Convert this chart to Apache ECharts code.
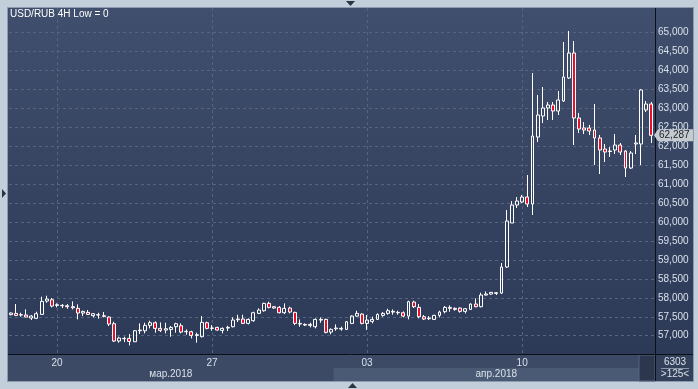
<!DOCTYPE html>
<html><head><meta charset="utf-8">
<script src="https://cdn.jsdelivr.net/npm/echarts@6/dist/echarts.min.js"></script>
<style>html,body{margin:0;padding:0;background:#c3cedb;overflow:hidden}#c{width:698px;height:389px}</style>
</head><body><div id="c"></div>
<script>
// ---------------- data ----------------
const titleText = 'USD/RUB 4H Low = 0';
const tradingDays = ['2018-03-16','2018-03-19','2018-03-20','2018-03-21','2018-03-22','2018-03-23',
  '2018-03-26','2018-03-27','2018-03-28','2018-03-29','2018-03-30',
  '2018-04-02','2018-04-03','2018-04-04','2018-04-05','2018-04-06',
  '2018-04-09','2018-04-10','2018-04-11','2018-04-12','2018-04-13','2018-04-16'];
const candleHours = ['00:00','04:00','08:00','12:00','16:00','20:00'];
const firstCandle = '2018-03-16 12:00';
const candleCount = 125;
const dayTickDates = ['2018-03-20 00:00','2018-03-27 00:00','2018-04-03 00:00','2018-04-10 00:00'];
const monthTicks = {'2018-03-23 16:00':'мар.2018','2018-04-09 04:00':'апр.2018'};
const yTickMin = 57000, yTickMax = 65000, yTickStep = 500;

const opens = [57554,57589,57545,57545,57466,57457,57562,57914,57949,57800,
57800,57791,57765,57721,57598,57615,57527,57545,57527,57492,
57316,56859,56920,56929,56841,57131,57131,57272,57342,57193,
57149,57166,57237,57263,57105,57105,57008,56973,57342,57193,
57219,57140,57202,57237,57422,57439,57325,57395,57589,57659,
57853,57765,57747,57606,57730,57615,57325,57298,57272,57237,
57430,57430,57096,57184,57193,57166,57325,57518,57571,57325,
57378,57430,57536,57589,57642,57615,57606,57518,57888,57747,
57501,57448,57430,57536,57633,57747,57721,57730,57642,57694,
57835,57765,58073,58099,58134,58125,58813,59973,60448,60527,
60659,60474,62242,62797,63008,63087,62928,63193,63800,64459,
62744,62480,62480,62427,62216,61926,61873,61899,62031,61873,
61424,62058,62058,62955,63113];
const closes = [57598,57536,57554,57492,57518,57580,57905,57967,57782,57817,
57791,57765,57738,57598,57642,57562,57580,57554,57510,57307,
56859,56938,56929,56850,57131,57149,57272,57342,57193,57140,
57184,57219,57316,57096,57114,57008,57026,57351,57193,57202,
57149,57193,57219,57413,57439,57325,57430,57606,57677,57853,
57747,57730,57606,57721,57624,57325,57307,57281,57298,57430,
57413,57087,57166,57202,57175,57369,57518,57589,57325,57413,
57430,57562,57589,57659,57624,57606,57518,57897,57765,57501,
57439,57466,57536,57624,57747,57721,57694,57642,57712,57835,
57765,58073,58099,58143,58117,58813,60026,60448,60553,60659,
60474,62269,62823,63008,63087,62928,63219,63826,64459,62744,
62453,62427,62401,62216,61899,61846,61860,62031,61846,61424,
61820,62084,63483,63113,62287];
const highs = [57615,57835,57606,57694,57545,57633,58029,58055,57993,57853,
57835,57835,57905,57826,57659,57677,57598,57606,57624,57510,
57369,56973,56973,57043,57149,57325,57342,57395,57378,57351,
57342,57254,57342,57325,57166,57131,57079,57518,57369,57281,
57237,57219,57263,57483,57554,57554,57457,57633,57721,57870,
57897,57782,57782,57853,57765,57633,57430,57325,57342,57457,
57483,57448,57193,57298,57237,57386,57536,57659,57589,57545,
57501,57589,57624,57712,57694,57659,57642,57923,57923,57835,
57545,57518,57554,57659,57782,57800,57747,57747,57730,57853,
57985,58134,58169,58152,58152,58917,60316,60553,60659,60712,
61239,63931,63351,63562,63166,63166,63456,64749,65040,64776,
62876,62638,62559,63113,62295,62058,61978,62321,62084,61899,
61873,62295,63509,63192,63166];
const lows = [57536,57518,57501,57483,57413,57439,57554,57870,57747,57747,
57730,57712,57694,57430,57518,57545,57483,57448,57483,57254,
56832,56815,56832,56744,56832,57043,57061,57193,57079,57096,
57061,56973,57079,57061,57026,56929,56815,56955,57166,57131,
57131,57061,57122,57219,57360,57307,57298,57369,57571,57633,
57721,57712,57589,57571,57589,57281,57237,57254,57219,57193,
57342,57061,57035,57131,57131,57149,57307,57501,57298,57149,
57325,57413,57501,57554,57554,57554,57483,57430,57730,57457,
57413,57413,57413,57483,57589,57633,57659,57606,57589,57677,
57747,57747,58064,58082,58073,58099,58786,59973,60369,60501,
60395,60184,62110,62612,62691,62691,62823,63166,63773,62031,
62348,62321,62295,61503,61266,61583,61715,61794,61767,61187,
61398,61794,61503,62902,62084];
const infoTop = '6303';
const infoBottom = '>125<';

// ---------------- build ----------------
const allSlots = [];
tradingDays.forEach(d => candleHours.forEach(h => allSlots.push(d + ' ' + h)));
const startIdx = allSlots.indexOf(firstCandle);
const categories = allSlots.slice(startIdx, startIdx + candleCount);
const candleData = opens.map((o, i) => [o, closes[i], lows[i], highs[i]]);
const yTickCount = (yTickMax - yTickMin) / yTickStep;

const FONT = 'Liberation Sans';
const LBL = '#d9e0ea';
const GRIDC = '#56657f';

// layout (pixels)
const PL = 8, PR = 655, PT = 8, PB = 354, FR = 693, FB = 381;
const pxPerStep = 18.95;
const y65000 = 32.5;

const chart = echarts.init(document.getElementById('c'));
const unit = yTickStep / pxPerStep;
const mainMax = yTickMax + (y65000 - PT) * unit;
const mainMin = yTickMax - (PB - y65000) * unit;

chart.setOption({
  animation: false,
  title: {text: titleText, left: 10, top: 9, padding: 0,
    textStyle: {color: '#ffffff', fontSize: 10, fontWeight: 'normal', fontFamily: FONT}},
  grid: [
    {left: 10.6, right: 698 - 651.3, top: PT, height: PB - PT, containLabel: false},
    {left: PL + 1, right: 698 - PR, top: y65000, height: yTickCount * pxPerStep, containLabel: false}
  ],
  xAxis: [
    {type: 'category', gridIndex: 0, data: categories, boundaryGap: false,
      axisLine: {show: false}, axisTick: {show: false},
      axisLabel: {interval: (i, v) => dayTickDates.includes(v), formatter: v => v.slice(8, 10),
        color: LBL, fontSize: 10, fontFamily: FONT, margin: 4},
      splitLine: {show: true, interval: (i, v) => dayTickDates.includes(v),
        lineStyle: {color: GRIDC, type: [3, 3], width: 1}}},
    {type: 'category', gridIndex: 0, data: categories, boundaryGap: false, position: 'bottom', offset: 11,
      axisLine: {show: false}, axisTick: {show: false}, splitLine: {show: false},
      axisLabel: {interval: (i, v) => v in monthTicks, formatter: v => monthTicks[v] || '',
        color: LBL, fontSize: 10, fontFamily: FONT, margin: 4}},
    {type: 'category', gridIndex: 1, data: categories, show: false}
  ],
  yAxis: [
    {type: 'value', gridIndex: 0, min: mainMin, max: mainMax, show: false, splitLine: {show: false}},
    {type: 'value', gridIndex: 1, min: yTickMin, max: yTickMax, interval: yTickStep, position: 'right',
      axisLine: {show: false}, axisTick: {show: false},
      axisLabel: {color: LBL, fontSize: 10, fontFamily: FONT, margin: 3,
        formatter: v => v.toLocaleString('en-US')},
      splitLine: {show: true, lineStyle: {color: GRIDC, type: [3, 3], width: 1}}}
  ],
  series: [{
    type: 'candlestick', xAxisIndex: 0, yAxisIndex: 0, data: candleData, barWidth: 3.4, clip: false,
    itemStyle: {color: 'rgba(0,0,0,0)', color0: '#e8102c', borderColor: '#ffffff', borderColor0: '#ffffff',
      borderWidth: 1}
  }]
});

const lastClose = closes[closes.length - 1];
const tagY = chart.convertToPixel({xAxisIndex: 0, yAxisIndex: 0}, [categories.length - 1, lastClose])[1];
const aprStart = chart.convertToPixel({xAxisIndex: 0}, '2018-04-02 00:00') - 5.167 / 2;
const grad = (a, b) => new echarts.graphic.LinearGradient(0, 0, 0, 1, [{offset: 0, color: a}, {offset: 1, color: b}]);

chart.setOption({graphic: [
  {type: 'rect', z: -20, silent: true, shape: {x: PL - 1, y: PT - 1, width: FR - PL + 2, height: FB - PT + 2}, style: {fill: '#8d9ab0'}},
  {type: 'rect', z: -19, silent: true, shape: {x: PL, y: PT, width: PR - PL, height: PB - PT}, style: {fill: grad('#404f6d', '#2c3957')}},
  {type: 'rect', z: -19, silent: true, shape: {x: PR + 1, y: PT, width: FR - PR - 1, height: PB - PT}, style: {fill: grad('#404f6d', '#2c3957')}},
  {type: 'rect', z: -19, silent: true, shape: {x: PL, y: PB + 1, width: PR - PL, height: FB - PB - 1}, style: {fill: '#3c4a65'}},
  {type: 'rect', z: -18, silent: true, shape: {x: aprStart, y: 368, width: PR - aprStart, height: FB - 368}, style: {fill: '#4b5a74'}},
  {type: 'rect', z: -17, silent: true, shape: {x: 639, y: PB + 1, width: PR - 639, height: FB - PB - 1}, style: {fill: '#2c374d', stroke: '#56647c', lineWidth: 1}},
  {type: 'rect', z: -19, silent: true, shape: {x: PR + 1, y: PB + 1, width: FR - PR - 1, height: FB - PB - 1}, style: {fill: '#33405a'}},
  {type: 'line', z: 50, silent: true, shape: {x1: PL, y1: PB + 0.5, x2: FR, y2: PB + 0.5}, style: {stroke: '#0b0f17', lineWidth: 1}},
  {type: 'line', z: 50, silent: true, shape: {x1: PR + 0.5, y1: PT, x2: PR + 0.5, y2: FB}, style: {stroke: '#0b0f17', lineWidth: 1}},
  {type: 'polygon', z: 50, silent: true, shape: {points: [[346, 1], [355, 1], [350.5, 6]]}, style: {fill: '#2a3444'}},
  {type: 'polygon', z: 50, silent: true, shape: {points: [[348, 388], [357, 388], [352.5, 383]]}, style: {fill: '#2a3444'}},
  {type: 'polygon', z: 50, silent: true, shape: {points: [[2, 189], [2, 198], [6, 193.5]]}, style: {fill: '#2a3444'}},
  {type: 'polygon', z: 60, silent: true, shape: {points: [[654, tagY], [658, tagY - 6], [693, tagY - 6], [693, tagY + 6], [658, tagY + 6]]}, style: {fill: '#c6cbd2'}},
  {type: 'text', z: 61, silent: true, style: {text: lastClose.toLocaleString('en-US'), x: 659, y: tagY, textVerticalAlign: 'middle', fill: '#1b1f26', font: '10px ' + FONT}},
  {type: 'text', z: 61, silent: true, style: {text: infoTop, x: 675, y: 362, textAlign: 'center', textVerticalAlign: 'middle', fill: '#d9e0ea', font: '10px ' + FONT}},
  {type: 'line', z: 61, silent: true, shape: {x1: 661, y1: 368.5, x2: 689, y2: 368.5}, style: {stroke: '#8894a8', lineWidth: 1}},
  {type: 'text', z: 61, silent: true, style: {text: infoBottom, x: 675, y: 374.5, textAlign: 'center', textVerticalAlign: 'middle', fill: '#d9e0ea', font: '10px ' + FONT}}
]});
</script></body></html>
